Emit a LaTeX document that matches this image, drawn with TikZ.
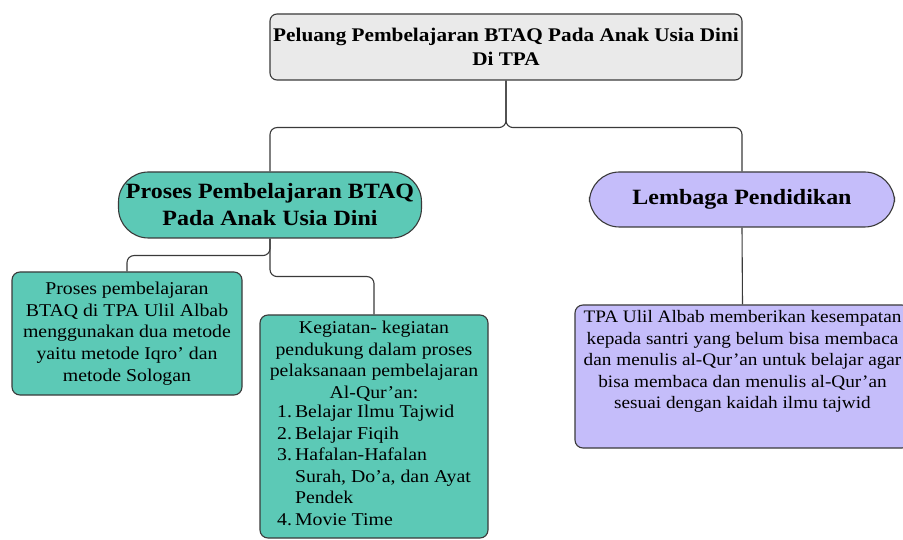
\documentclass[tikz,border=0pt]{standalone}
\usepackage{fontspec}
\setmainfont{Liberation Serif}[FakeStretch=1.1]
\usetikzlibrary{positioning,calc}

\definecolor{tealfill}{HTML}{5CC9B6}
\definecolor{lilacfill}{HTML}{C5BDFA}
\definecolor{grayfill}{HTML}{EAEAEA}
\definecolor{edgegray}{HTML}{3A3A3A}

\begin{document}
\begin{tikzpicture}[
  x=1pt, y=-1pt,
  titlebox/.style={draw=edgegray, line width=1.1pt, fill=grayfill, rounded corners=7pt,
    minimum width=472pt, minimum height=66pt, align=center, inner sep=2pt,
    font=\fontsize{19.3}{24}\selectfont\bfseries},
  pillbox/.style={draw=edgegray, line width=1.1pt, rounded corners=30pt,
    align=center, inner sep=2pt, font=\fontsize{21.8}{27}\selectfont\bfseries},
  infobox/.style={draw=edgegray, line width=1.1pt, rounded corners=8pt,
    align=center, inner sep=2pt, font=\fontsize{18}{21.6}\selectfont},
  conn/.style={draw=edgegray, line width=1.1pt, rounded corners=7pt}
]
\useasboundingbox (0,0) rectangle (903,540);
\clip (0,0) rectangle (903,540);

\node[titlebox] (ntop) at (506,47) {Peluang Pembelajaran BTAQ Pada Anak Usia Dini\\ Di TPA};

\node[pillbox, fill=tealfill, minimum width=303pt, minimum height=66pt] (nproc) at (270,205)
  {Proses Pembelajaran BTAQ\\ Pada Anak Usia Dini};
\node[pillbox, fill=lilacfill, minimum width=305pt, minimum height=55pt] (nlem) at (742,199.5)
  {Lembaga Pendidikan};

\node[infobox, fill=tealfill, minimum width=230pt, minimum height=123pt] (nmet) at (127,333.5)
  {Proses pembelajaran\\ BTAQ di TPA Ulil Albab\\ menggunakan dua metode\\ yaitu metode Iqro' dan\\ metode Sologan};

\node[infobox, fill=tealfill, minimum width=228pt, minimum height=223pt] (nkeg) at (374,426.5)
  {Kegiatan- kegiatan\\ pendukung dalam proses\\ pelaksanaan pembelajaran\\ Al-Qur'an:\\
   \begin{tabular}{@{}r@{\,}l@{}}
   1.&Belajar Ilmu Tajwid\\
   2.&Belajar Fiqih\\
   3.&Hafalan-Hafalan\\
     &Surah, Do'a, dan Ayat\\
     &Pendek\\
   4.&Movie Time
   \end{tabular}};

\node[infobox, fill=lilacfill, minimum width=335pt, minimum height=143pt,
  font=\fontsize{17.5}{21.6}\selectfont] (ntpa) at (742.5,376.5)
  {TPA Ulil Albab memberikan kesempatan\\ kepada santri yang belum bisa membaca\\ dan menulis al-Qur'an untuk belajar agar\\ bisa membaca dan menulis al-Qur'an\\ sesuai dengan kaidah ilmu tajwid\\[12pt] \mbox{}};

\draw[conn] (ntop.south) -- ++(0,47) -| (nproc.north);
\draw[conn] (ntop.south) -- ++(0,47) -| (nlem.north);
\draw[conn] (nproc.south) -- ++(0,17) -| (nmet.north);
\draw[conn] (nproc.south) -- ++(0,38) -| (nkeg.north);
\draw[conn] (nlem.south) -- (ntpa.north);

\end{tikzpicture}
\end{document}
